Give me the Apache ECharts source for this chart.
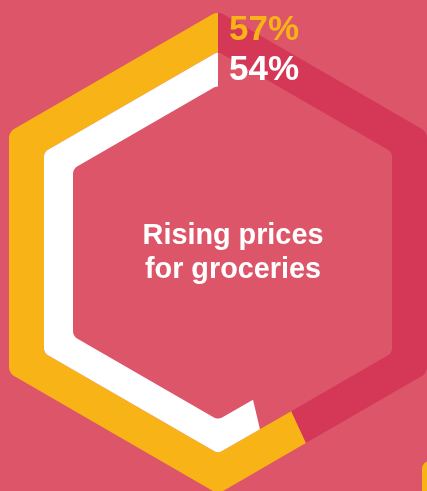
<!DOCTYPE html>
<html>
<head>
<meta charset="utf-8">
<script src="https://cdn.jsdelivr.net/npm/echarts@6/dist/echarts.min.js"></script>
<style>
  html, body { margin: 0; padding: 0; background: #dc5569; }
  #chart { width: 427px; height: 491px; }
</style>
</head>
<body>
<div id="chart"></div>
<script>
// Share of respondents (percent), outer ring first
const shares = [57, 54];
const caption = ['Rising prices', 'for groceries'];

const COLORS = {
  bg: '#dc5569',
  track: '#d53857',
  yellow: '#f8b316',
  white: '#ffffff'
};

// Hexagonal bands, sizes as apothems in radius-axis units (1 unit = 1px)
const BANDS = [
  { outer: 209, inner: 174, rOuter: 11, rInner: 8, fill: COLORS.yellow, track: COLORS.track, label: COLORS.yellow, labelDy: -1.5 },
  { outer: 174, inner: 145, rOuter: 8, rInner: 9, fill: COLORS.white, track: null, label: COLORS.white, labelDy: 2 }
];

const DEG = Math.PI / 180;
const FONT = '"Liberation Sans", Arial, Helvetica, sans-serif';

// Rounded pointy-top hexagon outline, starting at the top vertex and
// running counter-clockwise on screen back to the top.
function roundedHex(apothem, corner) {
  const R = apothem / Math.cos(30 * DEG);
  const d = R - corner / Math.sin(60 * DEG);
  const pts = [];
  const steps = 10;
  for (let k = 0; k <= 6; k++) {
    const a = -90 - 60 * k;
    const p0 = k === 0 ? a : a + 30;
    const p1 = k === 6 ? a : a - 30;
    const n = (k === 0 || k === 6) ? steps / 2 : steps;
    for (let s = 0; s <= n; s++) {
      const phi = (p0 + (p1 - p0) * s / n) * DEG;
      pts.push([
        d * Math.cos(a * DEG) + corner * Math.cos(phi),
        d * Math.sin(a * DEG) + corner * Math.sin(phi)
      ]);
    }
  }
  return pts;
}

function cumulative(pts) {
  const cum = [0];
  for (let i = 1; i < pts.length; i++) {
    cum.push(cum[i - 1] + Math.hypot(pts[i][0] - pts[i - 1][0], pts[i][1] - pts[i - 1][1]));
  }
  return cum;
}

function pointAt(pts, cum, len) {
  for (let i = 1; i < pts.length; i++) {
    if (cum[i] >= len) {
      const seg = cum[i] - cum[i - 1];
      const t = seg > 0 ? (len - cum[i - 1]) / seg : 0;
      return [
        pts[i - 1][0] + (pts[i][0] - pts[i - 1][0]) * t,
        pts[i - 1][1] + (pts[i][1] - pts[i - 1][1]) * t
      ];
    }
  }
  return pts[pts.length - 1].slice();
}

// Part of the outline between two fractions of its length
function slicePath(pts, f0, f1) {
  const cum = cumulative(pts);
  const total = cum[cum.length - 1];
  const a = f0 * total, b = f1 * total;
  const out = [pointAt(pts, cum, a)];
  for (let i = 0; i < pts.length; i++) {
    if (cum[i] > a && cum[i] < b) out.push(pts[i]);
  }
  out.push(pointAt(pts, cum, b));
  return out;
}

function renderBand(params, api) {
  const band = BANDS[params.dataIndex];
  const value = api.value(0);
  const f = value / 100;
  const outerPts = roundedHex(band.outer, band.rOuter);
  const innerPts = roundedHex(band.inner, band.rInner);

  // local offsets -> polar values -> pixels
  const toPx = function (p) {
    const rho = Math.hypot(p[0], p[1]);
    let theta = Math.atan2(-p[0], -p[1]) / DEG;
    if (theta < 0) theta += 360;
    return api.coord([rho, theta]);
  };
  const shape = function (f0, f1) {
    return slicePath(outerPts, f0, f1)
      .concat(slicePath(innerPts, f0, f1).reverse())
      .map(toPx);
  };

  const children = [];
  if (band.track) {
    children.push({ type: 'polygon', shape: { points: shape(f, 1) }, style: { fill: band.track } });
  }
  children.push({ type: 'polygon', shape: { points: shape(0, f) }, style: { fill: band.fill } });

  const mid = api.coord([(band.outer + band.inner) / 2 / Math.cos(30 * DEG), 0]);
  children.push({
    type: 'text',
    x: mid[0] + 11,
    y: mid[1] + band.labelDy,
    z2: 10,
    style: {
      text: value + '%',
      fill: band.label,
      fontSize: 35,
      fontWeight: 'bold',
      fontFamily: FONT,
      align: 'left',
      verticalAlign: 'middle'
    }
  });
  return { type: 'group', children: children };
}

const chart = echarts.init(document.getElementById('chart'), null, { renderer: 'canvas' });

chart.setOption({
  backgroundColor: COLORS.bg,
  animation: false,
  polar: { center: [218, 252.5], radius: 241.3 },
  angleAxis: { type: 'value', min: 0, max: 360, startAngle: 90, clockwise: false, show: false },
  radiusAxis: { type: 'value', min: 0, max: 241.3, show: false },
  series: [{
    type: 'custom',
    coordinateSystem: 'polar',
    renderItem: renderBand,
    data: shares.map(function (v, i) { return [v, i]; })
  }],
  graphic: [
    {
      type: 'text',
      x: 233,
      y: 253,
      style: {
        text: caption.join('\n'),
        fill: '#ffffff',
        fontSize: 28.8,
        fontWeight: 'bold',
        fontFamily: FONT,
        lineHeight: 34,
        align: 'center',
        verticalAlign: 'middle'
      }
    },
    {
      type: 'rect',
      x: 422,
      y: 461,
      shape: { width: 40, height: 60, r: 8 },
      style: { fill: COLORS.yellow }
    }
  ]
});
</script>
</body>
</html>
